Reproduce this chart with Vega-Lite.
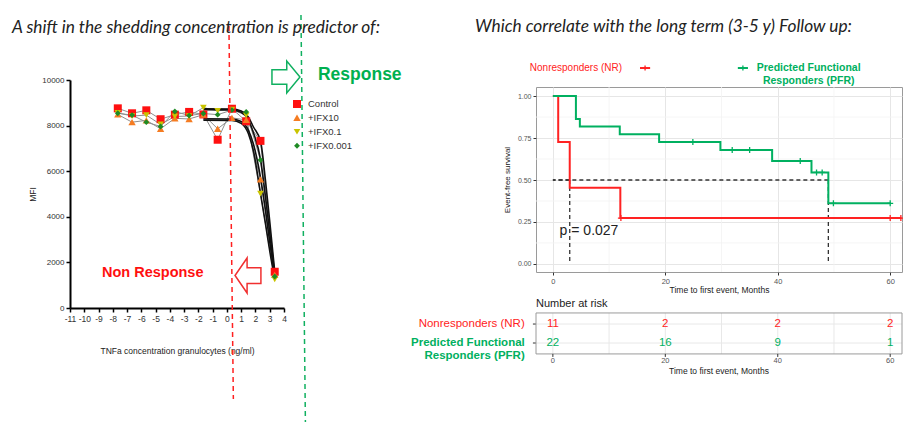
{
  "$schema": "https://vega.github.io/schema/vega-lite/v6.json",
  "padding": {"left": 12, "top": 14, "right": 0, "bottom": 0},
  "bounds": "flush",
  "spacing": 252,
  "resolve": {"scale": {"color": "independent", "shape": "independent", "size": "independent"}, "legend": {"color": "independent", "shape": "independent", "size": "independent"}},
  "config": {
    "font": "Liberation Sans",
    "view": {"stroke": null},
    "title": {"font": "Lato", "fontStyle": "italic", "fontWeight": "normal", "fontSize": 17.3, "color": "#222222", "anchor": "start", "frame": "group"}
  },
  "datasets": {
    "lab": [
      {"series": "Control", "conc": -7.65, "mfi": 8757}, {"series": "Control", "conc": -6.65, "mfi": 8540}, {"series": "Control", "conc": -5.65, "mfi": 8670}, {"series": "Control", "conc": -4.65, "mfi": 8280}, {"series": "Control", "conc": -3.65, "mfi": 8480}, {"series": "Control", "conc": -2.65, "mfi": 8600}, {"series": "Control", "conc": -1.65, "mfi": 8490}, {"series": "Control", "conc": -0.65, "mfi": 7380}, {"series": "Control", "conc": 0.35, "mfi": 8740}, {"series": "Control", "conc": 1.35, "mfi": 8190}, {"series": "Control", "conc": 2.35, "mfi": 7330}, {"series": "Control", "conc": 3.35, "mfi": 1590},
      {"series": "+IFX10", "conc": -7.65, "mfi": 8490}, {"series": "+IFX10", "conc": -6.65, "mfi": 8150}, {"series": "+IFX10", "conc": -5.65, "mfi": 8230}, {"series": "+IFX10", "conc": -4.65, "mfi": 7860}, {"series": "+IFX10", "conc": -3.65, "mfi": 8320}, {"series": "+IFX10", "conc": -2.65, "mfi": 8290}, {"series": "+IFX10", "conc": -1.65, "mfi": 8480}, {"series": "+IFX10", "conc": -0.65, "mfi": 7860}, {"series": "+IFX10", "conc": 0.35, "mfi": 8340}, {"series": "+IFX10", "conc": 1.35, "mfi": 8250}, {"series": "+IFX10", "conc": 2.35, "mfi": 5640}, {"series": "+IFX10", "conc": 3.35, "mfi": 1450},
      {"series": "+IFX0.1", "conc": -7.65, "mfi": 8560}, {"series": "+IFX0.1", "conc": -6.65, "mfi": 8420}, {"series": "+IFX0.1", "conc": -5.65, "mfi": 8460}, {"series": "+IFX0.1", "conc": -4.65, "mfi": 8050}, {"series": "+IFX0.1", "conc": -3.65, "mfi": 8400}, {"series": "+IFX0.1", "conc": -2.65, "mfi": 8420}, {"series": "+IFX0.1", "conc": -1.65, "mfi": 8790}, {"series": "+IFX0.1", "conc": -0.65, "mfi": 8650}, {"series": "+IFX0.1", "conc": 0.35, "mfi": 8700}, {"series": "+IFX0.1", "conc": 1.35, "mfi": 8450}, {"series": "+IFX0.1", "conc": 2.35, "mfi": 5020}, {"series": "+IFX0.1", "conc": 3.35, "mfi": 1260},
      {"series": "+IFX0.001", "conc": -7.65, "mfi": 8540}, {"series": "+IFX0.001", "conc": -6.65, "mfi": 8460}, {"series": "+IFX0.001", "conc": -5.65, "mfi": 8150}, {"series": "+IFX0.001", "conc": -4.65, "mfi": 7960}, {"series": "+IFX0.001", "conc": -3.65, "mfi": 8620}, {"series": "+IFX0.001", "conc": -2.65, "mfi": 8440}, {"series": "+IFX0.001", "conc": -1.65, "mfi": 8530}, {"series": "+IFX0.001", "conc": -0.65, "mfi": 8480}, {"series": "+IFX0.001", "conc": 0.35, "mfi": 8680}, {"series": "+IFX0.001", "conc": 1.35, "mfi": 8600}, {"series": "+IFX0.001", "conc": 2.35, "mfi": 6490}, {"series": "+IFX0.001", "conc": 3.35, "mfi": 1380}
    ],
    "fits": [
      {"fit": "A", "conc": -1.65, "mfi": 8740}, {"fit": "A", "conc": 0.35, "mfi": 8730}, {"fit": "A", "conc": 1.0, "mfi": 8640}, {"fit": "A", "conc": 1.5, "mfi": 8380}, {"fit": "A", "conc": 1.85, "mfi": 7950}, {"fit": "A", "conc": 2.36, "mfi": 7300}, {"fit": "A", "conc": 2.7, "mfi": 5600}, {"fit": "A", "conc": 3.0, "mfi": 3800}, {"fit": "A", "conc": 3.35, "mfi": 1600},
      {"fit": "B", "conc": -1.65, "mfi": 8700}, {"fit": "B", "conc": 0.35, "mfi": 8690}, {"fit": "B", "conc": 1.0, "mfi": 8580}, {"fit": "B", "conc": 1.5, "mfi": 8250}, {"fit": "B", "conc": 1.85, "mfi": 7700}, {"fit": "B", "conc": 2.36, "mfi": 6500}, {"fit": "B", "conc": 2.7, "mfi": 4900}, {"fit": "B", "conc": 3.0, "mfi": 3300}, {"fit": "B", "conc": 3.35, "mfi": 1380},
      {"fit": "C", "conc": -1.65, "mfi": 8300}, {"fit": "C", "conc": 0.35, "mfi": 8290}, {"fit": "C", "conc": 1.0, "mfi": 8180}, {"fit": "C", "conc": 1.5, "mfi": 7800}, {"fit": "C", "conc": 1.85, "mfi": 7200}, {"fit": "C", "conc": 2.36, "mfi": 5700}, {"fit": "C", "conc": 2.7, "mfi": 4300}, {"fit": "C", "conc": 3.0, "mfi": 2900}, {"fit": "C", "conc": 3.35, "mfi": 1450},
      {"fit": "D", "conc": -1.65, "mfi": 8240}, {"fit": "D", "conc": 0.35, "mfi": 8230}, {"fit": "D", "conc": 1.0, "mfi": 8100}, {"fit": "D", "conc": 1.5, "mfi": 7650}, {"fit": "D", "conc": 1.85, "mfi": 6900}, {"fit": "D", "conc": 2.36, "mfi": 5000}, {"fit": "D", "conc": 2.7, "mfi": 3700}, {"fit": "D", "conc": 3.0, "mfi": 2500}, {"fit": "D", "conc": 3.35, "mfi": 1260}
    ],
    "km": [
      {"group": "NR", "t": 0, "s": 1.0}, {"group": "NR", "t": 0.95, "s": 0.727}, {"group": "NR", "t": 3.0, "s": 0.4545}, {"group": "NR", "t": 12.0, "s": 0.273}, {"group": "NR", "t": 62.0, "s": 0.273},
      {"group": "PFR", "t": 0, "s": 1.0}, {"group": "PFR", "t": 4.1, "s": 0.864}, {"group": "PFR", "t": 4.8, "s": 0.818}, {"group": "PFR", "t": 11.9, "s": 0.773}, {"group": "PFR", "t": 18.9, "s": 0.727}, {"group": "PFR", "t": 29.8, "s": 0.679}, {"group": "PFR", "t": 39.0, "s": 0.613}, {"group": "PFR", "t": 46.0, "s": 0.545}, {"group": "PFR", "t": 49.0, "s": 0.361}, {"group": "PFR", "t": 60.1, "s": 0.361}
    ],
    "cens": [
      {"group": "NR", "t": 12.1, "s": 0.273}, {"group": "NR", "t": 60.0, "s": 0.273}, {"group": "NR", "t": 61.9, "s": 0.273},
      {"group": "PFR", "t": 24.9, "s": 0.727}, {"group": "PFR", "t": 31.9, "s": 0.679}, {"group": "PFR", "t": 35.0, "s": 0.679}, {"group": "PFR", "t": 44.0, "s": 0.613}, {"group": "PFR", "t": 46.9, "s": 0.545}, {"group": "PFR", "t": 47.9, "s": 0.545}, {"group": "PFR", "t": 49.9, "s": 0.361}, {"group": "PFR", "t": 60.0, "s": 0.361}
    ],
    "medians": [{"group": "NR", "t": 3.0, "s": 0.5}, {"group": "PFR", "t": 49.0, "s": 0.5}],
    "risk": [
      {"group": "NR", "t": 0, "n": 11}, {"group": "NR", "t": 20, "n": 2}, {"group": "NR", "t": 40, "n": 2}, {"group": "NR", "t": 60, "n": 2},
      {"group": "PFR", "t": 0, "n": 22}, {"group": "PFR", "t": 20, "n": 16}, {"group": "PFR", "t": 40, "n": 9}, {"group": "PFR", "t": 60, "n": 1}
    ],
    "minorx": [{"v": 10}, {"v": 30}, {"v": 50}],
    "minory": [{"v": 0.125}, {"v": 0.375}, {"v": 0.625}, {"v": 0.875}],
    "tablegrid": [{"v": 0}, {"v": 10}, {"v": 20}, {"v": 30}, {"v": 40}, {"v": 50}, {"v": 60}],
    "tableticks": [{"v": 0}, {"v": 20}, {"v": 40}, {"v": 60}]
  },
  "hconcat": [
    {
      "width": 214,
      "height": 221,
      "title": {"text": "A shift in the shedding concentration is predictor of:", "dx": -58, "offset": -22},
      "layer": [
        {
          "data": {"name": "lab"},
          "mark": {"type": "line", "color": "#8f8f8f", "strokeWidth": 1},
          "encoding": {
            "x": {"field": "conc", "type": "quantitative", "scale": {"domain": [-11, 4], "nice": false},
                  "axis": {"values": [-11,-10,-9,-8,-7,-6,-5,-4,-3,-2,-1,0,1,2,3,4], "tickCount": 20, "labelExpr": "toString(datum.value)", "title": "TNFa concentration granulocytes (ng/ml)", "titleFontSize": 8.5, "titleFontWeight": "normal", "titleColor": "#222", "titlePadding": 24, "labelFontSize": 8.5, "labelColor": "#333", "labelPadding": 2, "domainColor": "#000", "domainWidth": 2, "tickColor": "#000", "tickWidth": 1.5, "tickSize": 4, "grid": false, "labelFlush": false, "labelOverlap": false}},
            "y": {"field": "mfi", "type": "quantitative", "scale": {"domain": [0, 10000], "range": [221, -7], "nice": false},
                  "axis": {"values": [0, 2000, 4000, 6000, 8000, 10000], "tickCount": 10, "format": "d", "title": "MFI", "titleFontSize": 8.5, "titleFontWeight": "normal", "titleColor": "#222", "titlePadding": 4, "labelFontSize": 8, "labelColor": "#333", "labelPadding": 2, "domainColor": "#000", "domainWidth": 2, "tickColor": "#000", "tickWidth": 1.5, "tickSize": 4, "grid": false}},
            "detail": {"field": "series", "type": "nominal"}
          }
        },
        {
          "data": {"name": "fits"},
          "mark": {"type": "line", "color": "#111111", "strokeWidth": 1.6, "interpolate": "monotone"},
          "encoding": {
            "x": {"field": "conc", "type": "quantitative"},
            "y": {"field": "mfi", "type": "quantitative"},
            "detail": {"field": "fit", "type": "nominal"}
          }
        },
        {
          "data": {"name": "lab"},
          "mark": {"type": "point", "filled": true, "opacity": 1},
          "encoding": {
            "x": {"field": "conc", "type": "quantitative"},
            "y": {"field": "mfi", "type": "quantitative"},
            "color": {"field": "series", "type": "nominal",
                      "scale": {"domain": ["Control", "+IFX10", "+IFX0.1", "+IFX0.001"], "range": ["#FF1010", "#F57C22", "#C9C400", "#1E8B24"]},
                      "legend": {"orient": "none", "legendX": 222, "legendY": 12, "title": null, "labelFontSize": 9.5, "labelColor": "#333", "symbolSize": 40, "rowPadding": 3, "labelOffset": 6}},
            "shape": {"field": "series", "type": "nominal",
                      "scale": {"domain": ["Control", "+IFX10", "+IFX0.1", "+IFX0.001"], "range": ["square", "triangle-up", "triangle-down", "diamond"]}},
            "size": {"field": "series", "type": "nominal", "scale": {"domain": ["Control", "+IFX10", "+IFX0.1", "+IFX0.001"], "range": [64, 34, 34, 30]}, "legend": null}
          }
        },
        {
          "data": {"values": [{"k": 1}]},
          "mark": {"type": "rule", "color": "#FF2020", "strokeWidth": 1.5, "strokeDash": [5, 4]},
          "encoding": {"x": {"datum": 0.14}, "x2": {"datum": 0.45}, "y": {"datum": 12368}, "y2": {"datum": -3991}}
        },
        {
          "data": {"values": [{"k": 1}]},
          "mark": {"type": "rule", "color": "#10B060", "strokeWidth": 1.5, "strokeDash": [5, 4]},
          "encoding": {"x": {"datum": 5.19}, "x2": {"datum": 5.5}, "y": {"datum": 12851}, "y2": {"datum": -5000}}
        },
        {
          "data": {"values": [{"k": 1}]},
          "mark": {"type": "point", "shape": "M-0.875,-0.45L0.05,-0.45L0.05,-1L0.875,0L0.05,1L0.05,0.45L-0.875,0.45Z", "size": 1024, "filled": false, "stroke": "#10B060", "strokeWidth": 1.5, "opacity": 1},
          "encoding": {"x": {"datum": 4.137}, "y": {"datum": 10132}}
        },
        {
          "data": {"values": [{"k": 1}]},
          "mark": {"type": "point", "shape": "M0.74,-0.45L-0.05,-0.45L-0.05,-1L-0.74,0L-0.05,1L-0.05,0.45L0.74,0.45Z", "size": 1225, "filled": false, "stroke": "#F03030", "strokeWidth": 1.5, "opacity": 1},
          "encoding": {"x": {"datum": 1.474}, "y": {"datum": 1425}}
        },
        {
          "data": {"values": [{"k": 1}]},
          "mark": {"type": "text", "align": "left", "baseline": "middle", "fontWeight": "bold", "fontSize": 17.5, "color": "#00B050"},
          "encoding": {"x": {"datum": 6.38}, "y": {"datum": 10219}, "text": {"value": "Response"}}
        },
        {
          "data": {"values": [{"k": 1}]},
          "mark": {"type": "text", "align": "left", "baseline": "middle", "fontWeight": "bold", "fontSize": 14.5, "color": "#FF1010"},
          "encoding": {"x": {"datum": -8.76}, "y": {"datum": 1535}, "text": {"value": "Non Response"}}
        }
      ]
    },
    {
      "width": 366,
      "height": 185,
      "view": {"stroke": "#9a9a9a", "strokeWidth": 1},
      "title": {"text": "Which correlate with the long term (3-5 y) Follow up:", "dx": -61, "offset": 27},
      "layer": [
        {
          "data": {"name": "minorx"},
          "mark": {"type": "rule", "color": "#f3f3f3", "strokeWidth": 0.8},
          "encoding": {"x": {"field": "v", "type": "quantitative", "scale": {"domain": [-3, 62.1], "nice": false},
                  "axis": {"values": [0, 20, 40, 60], "title": "Time to first event, Months", "titleFontSize": 8.5, "titleFontWeight": "normal", "titleColor": "#222", "titlePadding": 1, "labelFontSize": 7.5, "labelColor": "#555", "labelPadding": 2, "domain": false, "tickColor": "#333", "tickSize": 3, "grid": true, "gridColor": "#e6e6e6", "gridWidth": 1}}}
        },
        {
          "data": {"name": "minory"},
          "mark": {"type": "rule", "color": "#f3f3f3", "strokeWidth": 0.8},
          "encoding": {"y": {"field": "v", "type": "quantitative", "scale": {"domain": [-0.048, 1.054], "nice": false},
                  "axis": {"values": [0, 0.25, 0.5, 0.75, 1], "tickCount": 10, "format": ".2f", "title": "Event-free survival", "titleFontSize": 8, "titleFontWeight": "normal", "titleColor": "#222", "titlePadding": 6, "labelFontSize": 7, "labelColor": "#555", "labelPadding": 2, "domain": false, "tickColor": "#333", "tickSize": 3, "grid": true, "gridColor": "#e6e6e6", "gridWidth": 1}}}
        },
        {
          "data": {"name": "medians"},
          "mark": {"type": "rule", "color": "#333333", "strokeWidth": 1.3, "strokeDash": [4, 3]},
          "encoding": {"x": {"field": "t", "type": "quantitative"}, "y": {"field": "s", "type": "quantitative"}, "y2": {"datum": 0}}
        },
        {
          "data": {"name": "medians"},
          "mark": {"type": "rule", "color": "#333333", "strokeWidth": 1.3, "strokeDash": [4, 3]},
          "encoding": {"x": {"field": "t", "type": "quantitative"}, "x2": {"datum": 0}, "y": {"field": "s", "type": "quantitative"}}
        },
        {
          "data": {"name": "km"},
          "mark": {"type": "line", "interpolate": "step-after", "strokeWidth": 2},
          "encoding": {
            "x": {"field": "t", "type": "quantitative"},
            "y": {"field": "s", "type": "quantitative"},
            "color": {"field": "group", "type": "nominal", "scale": {"domain": ["NR", "PFR"], "range": ["#FF2222", "#00B060"]}, "legend": null}
          }
        },
        {
          "data": {"name": "cens"},
          "mark": {"type": "point", "shape": "M-1,0L1,0M0,-1L0,1", "size": 36, "strokeWidth": 1.3, "filled": false, "opacity": 1},
          "encoding": {
            "x": {"field": "t", "type": "quantitative"},
            "y": {"field": "s", "type": "quantitative"},
            "color": {"field": "group", "type": "nominal", "legend": null}
          }
        },
        {
          "data": {"values": [{"k": 1}]},
          "mark": {"type": "text", "align": "left", "baseline": "middle", "fontSize": 14, "color": "#222"},
          "encoding": {"x": {"datum": 1.2}, "y": {"datum": 0.196}, "text": {"value": "p = 0.027"}}
        },
        {
          "data": {"values": [{"k": 1}]},
          "mark": {"type": "text", "align": "left", "baseline": "middle", "fontSize": 10, "color": "#FF2222"},
          "encoding": {"x": {"datum": -4.1}, "y": {"datum": 1.167}, "text": {"value": "Nonresponders (NR)"}}
        },
        {
          "data": {"values": [{"k": 1}]},
          "mark": {"type": "rule", "color": "#FF2222", "strokeWidth": 2},
          "encoding": {"x": {"datum": 15.5}, "x2": {"datum": 17.3}, "y": {"datum": 1.167}}
        },
        {
          "data": {"values": [{"k": 1}]},
          "mark": {"type": "point", "shape": "M-1,0L1,0M0,-1L0,1", "size": 25, "stroke": "#FF2222", "strokeWidth": 1.3, "filled": false, "opacity": 1},
          "encoding": {"x": {"datum": 16.4}, "y": {"datum": 1.167}}
        },
        {
          "data": {"values": [{"k": 1}]},
          "mark": {"type": "rule", "color": "#00B060", "strokeWidth": 2},
          "encoding": {"x": {"datum": 32.9}, "x2": {"datum": 34.7}, "y": {"datum": 1.167}}
        },
        {
          "data": {"values": [{"k": 1}]},
          "mark": {"type": "point", "shape": "M-1,0L1,0M0,-1L0,1", "size": 25, "stroke": "#00B060", "strokeWidth": 1.3, "filled": false, "opacity": 1},
          "encoding": {"x": {"datum": 33.8}, "y": {"datum": 1.167}}
        },
        {
          "data": {"values": [{"k": 1}]},
          "mark": {"type": "text", "align": "center", "baseline": "middle", "fontSize": 10.5, "fontWeight": "bold", "color": "#00B060", "lineBreak": "\n", "lineHeight": 13},
          "encoding": {"x": {"datum": 45.5}, "y": {"datum": 1.17}, "text": {"value": "Predicted Functional\nResponders (PFR)"}}
        },
        {
          "data": {"name": "tablegrid"},
          "mark": {"type": "rule", "color": "#e8e8e8", "strokeWidth": 1},
          "encoding": {"x": {"field": "v", "type": "quantitative"}, "y": {"datum": -0.292}, "y2": {"datum": -0.536}}
        },
        {
          "data": {"values": [{"k": 1}]},
          "mark": {"type": "rule", "color": "#e8e8e8", "strokeWidth": 1},
          "encoding": {"x": {"datum": -3}, "x2": {"datum": 62.1}, "y": {"datum": -0.358}}
        },
        {
          "data": {"values": [{"k": 1}]},
          "mark": {"type": "rule", "color": "#e8e8e8", "strokeWidth": 1},
          "encoding": {"x": {"datum": -3}, "x2": {"datum": 62.1}, "y": {"datum": -0.471}}
        },
        {
          "data": {"values": [{"k": 1}]},
          "mark": {"type": "rule", "color": "#333", "strokeWidth": 1},
          "encoding": {"x": {"datum": -3.55}, "x2": {"datum": -3}, "y": {"datum": -0.358}}
        },
        {
          "data": {"values": [{"k": 1}]},
          "mark": {"type": "rule", "color": "#333", "strokeWidth": 1},
          "encoding": {"x": {"datum": -3.55}, "x2": {"datum": -3}, "y": {"datum": -0.471}}
        },
        {
          "data": {"values": [{"k": 1}]},
          "mark": {"type": "rect", "fillOpacity": 0, "stroke": "#9a9a9a", "strokeWidth": 1},
          "encoding": {"x": {"datum": -3}, "x2": {"datum": 62.1}, "y": {"datum": -0.292}, "y2": {"datum": -0.536}}
        },
        {
          "data": {"name": "risk"},
          "transform": [{"filter": "datum.group == 'NR'"}],
          "mark": {"type": "text", "align": "center", "baseline": "middle", "fontSize": 11.5},
          "encoding": {"x": {"field": "t", "type": "quantitative"}, "y": {"datum": -0.358}, "text": {"field": "n", "type": "quantitative"}, "color": {"field": "group", "type": "nominal", "legend": null}}
        },
        {
          "data": {"name": "risk"},
          "transform": [{"filter": "datum.group == 'PFR'"}],
          "mark": {"type": "text", "align": "center", "baseline": "middle", "fontSize": 11.5},
          "encoding": {"x": {"field": "t", "type": "quantitative"}, "y": {"datum": -0.471}, "text": {"field": "n", "type": "quantitative"}, "color": {"field": "group", "type": "nominal", "legend": null}}
        },
        {
          "data": {"values": [{"k": 1}]},
          "mark": {"type": "text", "align": "right", "baseline": "middle", "fontSize": 11.5, "color": "#FF2222"},
          "encoding": {"x": {"datum": -5.0}, "y": {"datum": -0.358}, "text": {"value": "Nonresponders (NR)"}}
        },
        {
          "data": {"values": [{"k": 1}]},
          "mark": {"type": "text", "align": "right", "baseline": "middle", "fontSize": 11.5, "fontWeight": "bold", "color": "#00B060", "lineBreak": "\n", "lineHeight": 13},
          "encoding": {"x": {"datum": -5.0}, "y": {"datum": -0.471}, "text": {"value": "Predicted Functional\nResponders (PFR)"}}
        },
        {
          "data": {"values": [{"k": 1}]},
          "mark": {"type": "text", "align": "left", "baseline": "middle", "fontSize": 11, "color": "#222"},
          "encoding": {"x": {"datum": -3}, "y": {"datum": -0.239}, "text": {"value": "Number at risk"}}
        },
        {
          "data": {"name": "tableticks"},
          "mark": {"type": "rule", "color": "#333", "strokeWidth": 1},
          "encoding": {"x": {"field": "v", "type": "quantitative"}, "y": {"datum": -0.536}, "y2": {"datum": -0.554}}
        },
        {
          "data": {"name": "tableticks"},
          "mark": {"type": "text", "align": "center", "baseline": "middle", "fontSize": 7.5, "color": "#555"},
          "encoding": {"x": {"field": "v", "type": "quantitative"}, "y": {"datum": -0.578}, "text": {"field": "v", "type": "quantitative"}}
        },
        {
          "data": {"values": [{"k": 1}]},
          "mark": {"type": "text", "align": "center", "baseline": "middle", "fontSize": 8.5, "color": "#222"},
          "encoding": {"x": {"datum": 29.55}, "y": {"datum": -0.64}, "text": {"value": "Time to first event, Months"}}
        }
      ]
    }
  ]
}
